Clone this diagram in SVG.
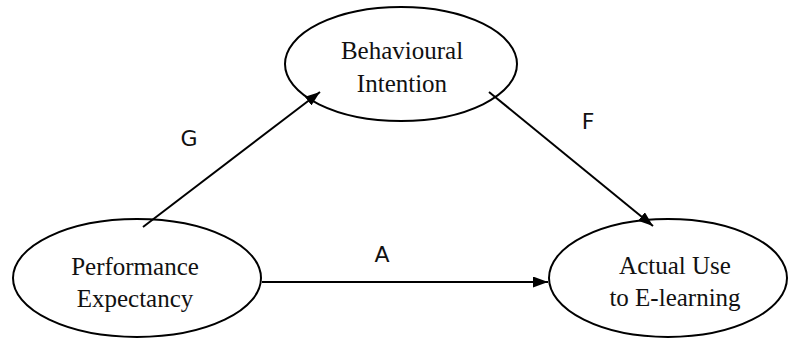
<svg xmlns="http://www.w3.org/2000/svg" width="790" height="341" viewBox="0 0 790 341">
<style>
.node{fill:#fff;stroke:#000;stroke-width:2}
.t{font-family:"Liberation Serif","Times New Roman",serif;font-size:25px;fill:#111;text-anchor:middle}
.l{font-family:"DejaVu Sans",sans-serif;font-size:22px;fill:#111;text-anchor:middle}
.c{stroke:#000;stroke-width:2;fill:none;marker-end:url(#ah)}
</style>
<defs>
<marker id="ah" viewBox="0 0 15 11" refX="15" refY="5.5" markerWidth="15" markerHeight="11" markerUnits="userSpaceOnUse" orient="auto">
<path d="M0,0 L15,5.5 L0,11 Z" fill="#000"/>
</marker>
</defs>
<g id="n-bi">
<ellipse class="node" cx="401" cy="64" rx="116" ry="57"/>
<text class="t" x="402" y="59">Behavioural</text>
<text class="t" x="402" y="92">Intention</text>
</g>
<g id="n-pe">
<ellipse class="node" cx="137" cy="278" rx="124" ry="59"/>
<text class="t" x="135" y="275">Performance</text>
<text class="t" x="135" y="307">Expectancy</text>
</g>
<g id="n-au">
<ellipse class="node" cx="668" cy="278" rx="119" ry="59"/>
<text class="t" x="675" y="274">Actual Use</text>
<text class="t" x="675" y="306">to E-learning</text>
</g>
<g id="connectors">
<line class="c" x1="143" y1="227" x2="320" y2="92"/>
<line class="c" x1="489" y1="92" x2="653" y2="226"/>
<line class="c" x1="262" y1="282" x2="548" y2="282"/>
</g>
<g id="labels">
<text class="l" x="189" y="146">G</text>
<text class="l" x="588" y="129">F</text>
<text class="l" x="382" y="262">A</text>
</g>
</svg>
